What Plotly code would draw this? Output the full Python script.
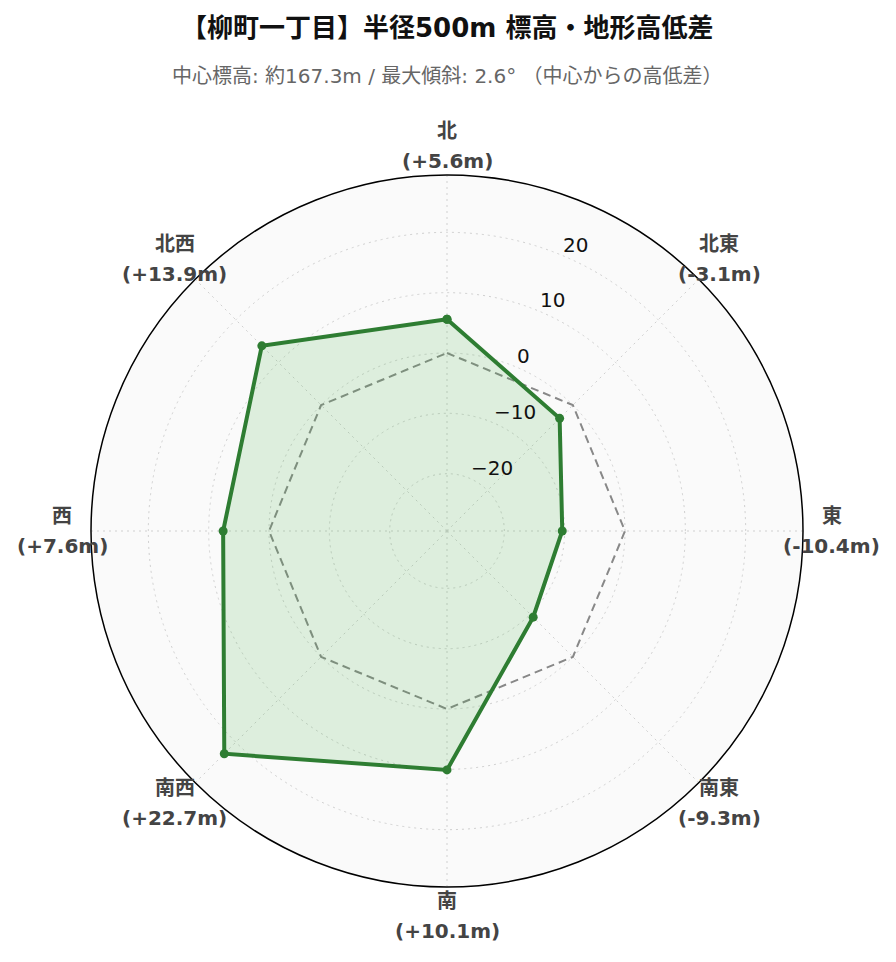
import math
import plotly.graph_objects as go

directions = ["北", "北東", "東", "南東", "南", "南西", "西", "北西"]
diffs = [5.6, -3.1, -10.4, -9.3, 10.1, 22.7, 7.6, 13.9]
baseline = [0, 0, 0, 0, 0, 0, 0, 0]
radial_ticks = [-20, -10, 0, 10, 20]
radial_range = [-29.5, 29.5]

value_texts = [f"({'+' if v >= 0 else ''}{v}m)" for v in diffs]
theta_closed = directions + [directions[0]]

fig = go.Figure()
fig.add_trace(go.Scatterpolar(
    r=baseline + [baseline[0]], theta=theta_closed, mode="lines",
    line=dict(color="#888888", width=2, dash="8px,5px"), hoverinfo="skip", showlegend=False))
fig.add_trace(go.Scatterpolar(
    r=diffs + [diffs[0]], theta=theta_closed, mode="lines+markers",
    line=dict(color="#2e7d32", width=4), marker=dict(size=9, color="#2e7d32"),
    fill="toself", fillcolor="rgba(76,175,80,0.17)", showlegend=False))

font_family = "DejaVu Sans, Noto Sans CJK JP, sans-serif"
L, R, T, B = 83, 101, 167, 83
W, H = 896, 962
RAD_ANGLE = 67.5
fig.update_layout(
    width=W, height=H,
    paper_bgcolor="white",
    font=dict(family=font_family),
    margin=dict(l=L, r=R, t=T, b=B),
    polar=dict(
        bgcolor="#fafafa",
        radialaxis=dict(range=radial_range, tickvals=radial_ticks, angle=RAD_ANGLE,
                        showticklabels=False, showline=False,
                        gridcolor="#d0d0d0", griddash="2px,4px", gridwidth=1, ticks=""),
        angularaxis=dict(rotation=90, direction="clockwise", categoryorder="array",
                         categoryarray=directions, linecolor="black", linewidth=1.5,
                         showticklabels=False,
                         gridcolor="#d0d0d0", griddash="2px,4px", ticks="")
    ),
)

pw, ph = W - L - R, H - T - B
cx, cy = L + pw / 2, T + ph / 2
rad = min(pw, ph) / 2

def to_paper(px, py):
    return (px - L) / pw, (H - B - py) / ph

def ann(text, px, py, size, color, xanchor="center"):
    x, y = to_paper(px, py)
    return dict(text=text, x=x, y=y, xref="paper", yref="paper",
                xanchor=xanchor, yanchor="middle", showarrow=False,
                font=dict(size=size, color=color))

annotations = [
    ann("<b>【柳町一丁目】半径500m 標高・地形高低差</b>", cx, 20, 26, "#111111"),
    ann("中心標高: 約167.3m / 最大傾斜: 2.6° （中心からの高低差）", cx, 68, 20, "#666666"),
]

# angular labels (direction + value), centred just outside the circle
label_r = rad + 29
for i, (d, vt) in enumerate(zip(directions, value_texts)):
    a = math.radians(90 - 45 * i)
    px = cx + label_r * math.cos(a)
    py = cy - label_r * math.sin(a)
    annotations.append(ann(f"<b>{d}</b>", px, py - 14.75, 20, "#444444"))
    annotations.append(ann(f"<b>{vt}</b>", px, py + 14.75, 20, "#444444"))

# radial tick labels along the radial axis
ra = math.radians(RAD_ANGLE)
for t in radial_ticks:
    rr = (t - radial_range[0]) / (radial_range[1] - radial_range[0]) * rad
    px = cx + rr * math.cos(ra)
    py = cy - rr * math.sin(ra)
    txt = str(t).replace("-", "\u2212")
    annotations.append(ann(txt, px, py - 10.5, 20, "#111111", xanchor="left"))

fig.update_layout(annotations=annotations)
fig.write_html("out.html")
